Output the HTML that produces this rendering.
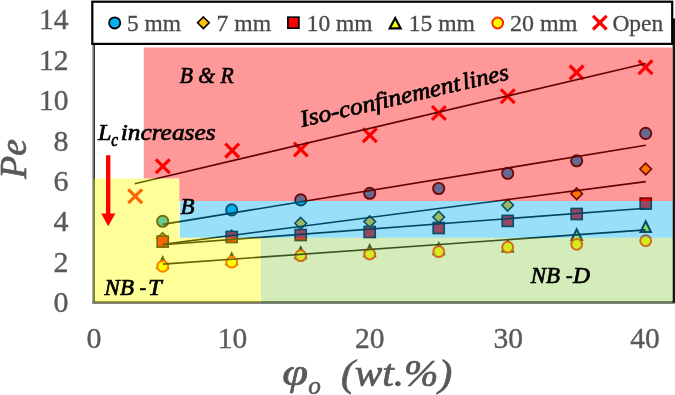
<!DOCTYPE html>
<html><head><meta charset="utf-8"><title>Pe vs phi</title>
<style>html,body{margin:0;padding:0;background:#fff;}body{width:675px;height:395px;overflow:hidden;font-family:"Liberation Serif",serif;}svg{display:block;will-change:transform;}text{font-family:"Liberation Serif",serif;}</style>
</head><body>
<svg width="675" height="395" viewBox="0 0 675 395">
<rect x="0" y="0" width="675" height="395" fill="#ffffff"/>
<g>
<rect x="92.3" y="44" width="1.5" height="260" fill="#858585"/>
<rect x="93.7" y="44" width="1.3" height="258.6" fill="#2a2a2a"/>
<rect x="92.3" y="302.5" width="582.5" height="1.5" fill="#858585"/>
<rect x="93.7" y="301.3" width="581" height="1.3" fill="#1a1a1a"/>
<rect x="672.6" y="18.5" width="2.4" height="284" fill="#151515"/>
</g>
<g>
<circle cx="162.7" cy="221.3" r="5.6" fill="#00b0f0" stroke="#101010" stroke-width="1.9"/>
<circle cx="231.7" cy="209.9" r="5.6" fill="#00b0f0" stroke="#101010" stroke-width="1.9"/>
<circle cx="300.7" cy="199.9" r="5.6" fill="#00b0f0" stroke="#101010" stroke-width="1.9"/>
<circle cx="369.7" cy="193.3" r="5.6" fill="#00b0f0" stroke="#101010" stroke-width="1.9"/>
<circle cx="438.7" cy="188.5" r="5.6" fill="#00b0f0" stroke="#101010" stroke-width="1.9"/>
<circle cx="507.7" cy="173.3" r="5.6" fill="#00b0f0" stroke="#101010" stroke-width="1.9"/>
<circle cx="576.7" cy="160.8" r="5.6" fill="#00b0f0" stroke="#101010" stroke-width="1.9"/>
<circle cx="645.7" cy="133.4" r="5.6" fill="#00b0f0" stroke="#101010" stroke-width="1.9"/>
<path d="M162.7 232.7L168.5 238.5L162.7 244.3L156.9 238.5Z" fill="#ffc000" stroke="#101010" stroke-width="1.6" stroke-linejoin="miter"/>
<path d="M231.7 230.2L237.5 236.0L231.7 241.8L225.9 236.0Z" fill="#ffc000" stroke="#101010" stroke-width="1.6" stroke-linejoin="miter"/>
<path d="M300.7 217.5L306.5 223.3L300.7 229.1L294.9 223.3Z" fill="#ffc000" stroke="#101010" stroke-width="1.6" stroke-linejoin="miter"/>
<path d="M369.7 215.8L375.5 221.6L369.7 227.4L363.9 221.6Z" fill="#ffc000" stroke="#101010" stroke-width="1.6" stroke-linejoin="miter"/>
<path d="M438.7 211.3L444.5 217.1L438.7 222.9L432.9 217.1Z" fill="#ffc000" stroke="#101010" stroke-width="1.6" stroke-linejoin="miter"/>
<path d="M507.7 199.4L513.5 205.2L507.7 211.0L501.9 205.2Z" fill="#ffc000" stroke="#101010" stroke-width="1.6" stroke-linejoin="miter"/>
<path d="M576.7 188.0L582.5 193.8L576.7 199.6L570.9 193.8Z" fill="#ffc000" stroke="#101010" stroke-width="1.6" stroke-linejoin="miter"/>
<path d="M645.7 163.2L651.5 169.0L645.7 174.8L639.9 169.0Z" fill="#ffc000" stroke="#101010" stroke-width="1.6" stroke-linejoin="miter"/>
<rect x="157.2" y="236.1" width="11.0" height="11.0" fill="#ff0000" stroke="#101010" stroke-width="1.7"/>
<rect x="226.2" y="231.5" width="11.0" height="11.0" fill="#ff0000" stroke="#101010" stroke-width="1.7"/>
<rect x="295.2" y="229.5" width="11.0" height="11.0" fill="#ff0000" stroke="#101010" stroke-width="1.7"/>
<rect x="364.2" y="226.5" width="11.0" height="11.0" fill="#ff0000" stroke="#101010" stroke-width="1.7"/>
<rect x="433.2" y="222.5" width="11.0" height="11.0" fill="#ff0000" stroke="#101010" stroke-width="1.7"/>
<rect x="502.2" y="215.4" width="11.0" height="11.0" fill="#ff0000" stroke="#101010" stroke-width="1.7"/>
<rect x="571.2" y="208.5" width="11.0" height="11.0" fill="#ff0000" stroke="#101010" stroke-width="1.7"/>
<rect x="640.2" y="198.1" width="11.0" height="11.0" fill="#ff0000" stroke="#101010" stroke-width="1.7"/>
<path d="M162.7 255.1L169.6 269.3L155.8 269.3Z" fill="#101010"/><path d="M162.70 259.90L166.24 267.20L159.16 267.20Z" fill="#ffff00"/>
<path d="M231.7 251.1L238.6 265.3L224.8 265.3Z" fill="#101010"/><path d="M231.70 255.90L235.24 263.20L228.16 263.20Z" fill="#ffff00"/>
<path d="M300.7 245.1L307.6 259.3L293.8 259.3Z" fill="#101010"/><path d="M300.70 249.90L304.24 257.20L297.16 257.20Z" fill="#ffff00"/>
<path d="M369.7 243.1L376.6 257.3L362.8 257.3Z" fill="#101010"/><path d="M369.70 247.90L373.24 255.20L366.16 255.20Z" fill="#ffff00"/>
<path d="M438.7 241.1L445.6 255.3L431.8 255.3Z" fill="#101010"/><path d="M438.70 245.90L442.24 253.20L435.16 253.20Z" fill="#ffff00"/>
<path d="M507.7 238.3L514.6 252.5L500.8 252.5Z" fill="#101010"/><path d="M507.70 243.10L511.24 250.40L504.16 250.40Z" fill="#ffff00"/>
<path d="M576.7 226.9L583.6 241.1L569.8 241.1Z" fill="#101010"/><path d="M576.70 231.70L580.24 239.00L573.16 239.00Z" fill="#ffff00"/>
<path d="M645.7 218.9L652.6 233.1L638.8 233.1Z" fill="#101010"/><path d="M645.70 223.70L649.24 231.00L642.16 231.00Z" fill="#ffff00"/>
<circle cx="162.7" cy="266.3" r="5.4" fill="#ffff00" stroke="#ff2a00" stroke-width="2.0"/>
<circle cx="231.7" cy="262.2" r="5.4" fill="#ffff00" stroke="#ff2a00" stroke-width="2.0"/>
<circle cx="300.7" cy="255.7" r="5.4" fill="#ffff00" stroke="#ff2a00" stroke-width="2.0"/>
<circle cx="369.7" cy="254.0" r="5.4" fill="#ffff00" stroke="#ff2a00" stroke-width="2.0"/>
<circle cx="438.7" cy="251.6" r="5.4" fill="#ffff00" stroke="#ff2a00" stroke-width="2.0"/>
<circle cx="507.7" cy="247.2" r="5.4" fill="#ffff00" stroke="#ff2a00" stroke-width="2.0"/>
<circle cx="576.7" cy="244.3" r="5.4" fill="#ffff00" stroke="#ff2a00" stroke-width="2.0"/>
<circle cx="645.7" cy="240.7" r="5.4" fill="#ffff00" stroke="#ff2a00" stroke-width="2.0"/>
<path d="M128.3 189.4L142.1 203.2M142.1 189.4L128.3 203.2" fill="none" stroke="#ff0000" stroke-width="3.2" stroke-linecap="butt"/>
<path d="M155.9 159.3L169.7 173.1M169.7 159.3L155.9 173.1" fill="none" stroke="#ff0000" stroke-width="3.2" stroke-linecap="butt"/>
<path d="M225.3 143.7L239.1 157.5M239.1 143.7L225.3 157.5" fill="none" stroke="#ff0000" stroke-width="3.2" stroke-linecap="butt"/>
<path d="M293.9 142.6L307.7 156.4M307.7 142.6L293.9 156.4" fill="none" stroke="#ff0000" stroke-width="3.2" stroke-linecap="butt"/>
<path d="M362.9 128.3L376.7 142.1M376.7 128.3L362.9 142.1" fill="none" stroke="#ff0000" stroke-width="3.2" stroke-linecap="butt"/>
<path d="M432.0 106.1L445.8 119.9M445.8 106.1L432.0 119.9" fill="none" stroke="#ff0000" stroke-width="3.2" stroke-linecap="butt"/>
<path d="M500.9 89.4L514.7 103.2M514.7 89.4L500.9 103.2" fill="none" stroke="#ff0000" stroke-width="3.2" stroke-linecap="butt"/>
<path d="M569.7 65.5L583.5 79.3M583.5 65.5L569.7 79.3" fill="none" stroke="#ff0000" stroke-width="3.2" stroke-linecap="butt"/>
<path d="M638.6 60.4L652.4 74.2M652.4 60.4L638.6 74.2" fill="none" stroke="#ff0000" stroke-width="3.2" stroke-linecap="butt"/>
</g>
<g stroke="#000" stroke-width="1.65" fill="none">
<line x1="134.7" y1="183.7" x2="645.6" y2="63.5"/>
<line x1="162.8" y1="224.4" x2="645.8" y2="145.3"/>
<line x1="162.8" y1="244.4" x2="645.8" y2="181.6"/>
<line x1="162.8" y1="244.7" x2="645.8" y2="208.2"/>
<line x1="162.8" y1="264.1" x2="645.8" y2="229.9"/>
</g>
<g fill-opacity="0.4" stroke="none">
<path d="M143.8 47.5H672.3V201H179.3V178.5H143.8Z" fill="#ff0000"/>
<rect x="179.9" y="201" width="492.4" height="36.8" fill="#00b0f0"/>
<path d="M93.7 178.5H179.3V237.8H261V302.6H93.7Z" fill="#ffff00"/>
<rect x="261" y="237.8" width="411.3" height="64.8" fill="#92d050"/>
</g>
<path d="M106 155.2H110.4V213.6H115.4L108.2 226.2L101.2 213.6H106Z" fill="#ff0000"/>
<text x="179.7" y="83.2" font-size="23.5" font-style="italic" font-weight="normal" fill="#000" text-anchor="start" textLength="54" lengthAdjust="spacingAndGlyphs" stroke="#000" stroke-width="0.7">B &amp; R</text>
<text x="97.9" y="139.5" font-size="23.5" font-style="italic" font-weight="normal" fill="#000" text-anchor="start" textLength="13.5" lengthAdjust="spacingAndGlyphs" stroke="#000" stroke-width="0.7">L</text>
<text x="111.2" y="145.6" font-size="18" font-style="italic" font-weight="normal" fill="#000" text-anchor="start" textLength="6.8" lengthAdjust="spacingAndGlyphs" stroke="#000" stroke-width="0.7">c</text>
<text x="120.7" y="139.5" font-size="23.5" font-style="italic" font-weight="normal" fill="#000" text-anchor="start" textLength="94.9" lengthAdjust="spacingAndGlyphs" stroke="#000" stroke-width="0.7">increases</text>
<g transform="translate(302,127) rotate(-13)"><text x="0" y="0" font-size="23.5" font-style="italic" font-weight="normal" fill="#000" text-anchor="start" textLength="163.8" lengthAdjust="spacingAndGlyphs" stroke="#000" stroke-width="0.7">Iso-confinement</text><text x="166.5" y="0" font-size="23.5" font-style="italic" font-weight="normal" fill="#000" text-anchor="start" textLength="47" lengthAdjust="spacingAndGlyphs" stroke="#000" stroke-width="0.7">lines</text></g>
<text x="180.4" y="214.2" font-size="23.5" font-style="italic" font-weight="normal" fill="#000" text-anchor="start" textLength="14" lengthAdjust="spacingAndGlyphs" stroke="#000" stroke-width="0.7">B</text>
<text x="104.6" y="295.3" font-size="23.5" font-style="italic" font-weight="normal" fill="#000" text-anchor="start" textLength="29.3" lengthAdjust="spacingAndGlyphs" stroke="#000" stroke-width="0.7">NB</text>
<text x="139.5" y="295.3" font-size="23.5" font-style="italic" font-weight="normal" fill="#000" text-anchor="start" textLength="6.6" lengthAdjust="spacingAndGlyphs" stroke="#000" stroke-width="0.7">-</text>
<text x="148.1" y="295.3" font-size="23.5" font-style="italic" font-weight="normal" fill="#000" text-anchor="start" textLength="13.7" lengthAdjust="spacingAndGlyphs" stroke="#000" stroke-width="0.7">T</text>
<text x="530.7" y="283.0" font-size="23.5" font-style="italic" font-weight="normal" fill="#000" text-anchor="start" textLength="29.3" lengthAdjust="spacingAndGlyphs" stroke="#000" stroke-width="0.7">NB</text>
<text x="565.9" y="283.0" font-size="23.5" font-style="italic" font-weight="normal" fill="#000" text-anchor="start" textLength="6.6" lengthAdjust="spacingAndGlyphs" stroke="#000" stroke-width="0.7">-</text>
<text x="573.0" y="283.0" font-size="23.5" font-style="italic" font-weight="normal" fill="#000" text-anchor="start" textLength="17.0" lengthAdjust="spacingAndGlyphs" stroke="#000" stroke-width="0.7">D</text>
<rect x="92.3" y="1.7" width="579.9" height="42.2" fill="#ffffff" stroke="#000" stroke-width="2.2"/>
<circle cx="114.7" cy="22.9" r="5.6" fill="#00b0f0" stroke="#000" stroke-width="1.8"/>
<text x="127.0" y="30.6" font-size="22.6" font-style="normal" font-weight="normal" fill="#4a4a4a" text-anchor="start" textLength="54.0" lengthAdjust="spacingAndGlyphs" stroke="#4a4a4a" stroke-width="0.3">5 mm</text>
<path d="M203.4 17.0L209.2 22.8L203.4 28.6L197.6 22.8Z" fill="#ffc000" stroke="#000" stroke-width="1.6" stroke-linejoin="miter"/>
<text x="216.6" y="30.6" font-size="22.6" font-style="normal" font-weight="normal" fill="#4a4a4a" text-anchor="start" textLength="54.6" lengthAdjust="spacingAndGlyphs" stroke="#4a4a4a" stroke-width="0.3">7 mm</text>
<rect x="287.9" y="17.2" width="11.0" height="11.0" fill="#ff0000" stroke="#000" stroke-width="1.7"/>
<text x="306.8" y="30.6" font-size="22.6" font-style="normal" font-weight="normal" fill="#4a4a4a" text-anchor="start" textLength="65.8" lengthAdjust="spacingAndGlyphs" stroke="#4a4a4a" stroke-width="0.3">10 mm</text>
<path d="M395.2 15.8L402.5 29.5L387.9 29.5Z" fill="#000"/><path d="M395.20 20.48L398.83 27.30L391.57 27.30Z" fill="#ffff00"/>
<text x="408.8" y="30.6" font-size="22.6" font-style="normal" font-weight="normal" fill="#4a4a4a" text-anchor="start" textLength="66.1" lengthAdjust="spacingAndGlyphs" stroke="#4a4a4a" stroke-width="0.3">15 mm</text>
<circle cx="497.7" cy="23.0" r="5.4" fill="#ffff00" stroke="#ff2a00" stroke-width="2.0"/>
<text x="510.0" y="30.6" font-size="22.6" font-style="normal" font-weight="normal" fill="#4a4a4a" text-anchor="start" textLength="67.4" lengthAdjust="spacingAndGlyphs" stroke="#4a4a4a" stroke-width="0.3">20 mm</text>
<path d="M593.0 15.9L606.6 29.5M606.6 15.9L593.0 29.5" fill="none" stroke="#ff0000" stroke-width="3.2" stroke-linecap="butt"/>
<text x="612.4" y="30.6" font-size="22.6" font-style="normal" font-weight="normal" fill="#4a4a4a" text-anchor="start" textLength="50.8" lengthAdjust="spacingAndGlyphs" stroke="#4a4a4a" stroke-width="0.3">Open</text>
<text x="39.099999999999994" y="29.4" font-size="29" font-style="normal" font-weight="normal" fill="#595959" text-anchor="start" textLength="29.5" lengthAdjust="spacingAndGlyphs" stroke="#595959" stroke-width="0.35">14</text>
<text x="39.099999999999994" y="69.8" font-size="29" font-style="normal" font-weight="normal" fill="#595959" text-anchor="start" textLength="29.5" lengthAdjust="spacingAndGlyphs" stroke="#595959" stroke-width="0.35">12</text>
<text x="39.099999999999994" y="110.1" font-size="29" font-style="normal" font-weight="normal" fill="#595959" text-anchor="start" textLength="29.5" lengthAdjust="spacingAndGlyphs" stroke="#595959" stroke-width="0.35">10</text>
<text x="53.599999999999994" y="150.5" font-size="29" font-style="normal" font-weight="normal" fill="#595959" text-anchor="start" textLength="15" lengthAdjust="spacingAndGlyphs" stroke="#595959" stroke-width="0.35">8</text>
<text x="53.599999999999994" y="190.9" font-size="29" font-style="normal" font-weight="normal" fill="#595959" text-anchor="start" textLength="15" lengthAdjust="spacingAndGlyphs" stroke="#595959" stroke-width="0.35">6</text>
<text x="53.599999999999994" y="231.3" font-size="29" font-style="normal" font-weight="normal" fill="#595959" text-anchor="start" textLength="15" lengthAdjust="spacingAndGlyphs" stroke="#595959" stroke-width="0.35">4</text>
<text x="53.599999999999994" y="271.6" font-size="29" font-style="normal" font-weight="normal" fill="#595959" text-anchor="start" textLength="15" lengthAdjust="spacingAndGlyphs" stroke="#595959" stroke-width="0.35">2</text>
<text x="53.599999999999994" y="312" font-size="29" font-style="normal" font-weight="normal" fill="#595959" text-anchor="start" textLength="15" lengthAdjust="spacingAndGlyphs" stroke="#595959" stroke-width="0.35">0</text>
<text x="86.5" y="347.6" font-size="29" font-style="normal" font-weight="normal" fill="#595959" text-anchor="start" textLength="15" lengthAdjust="spacingAndGlyphs" stroke="#595959" stroke-width="0.35">0</text>
<text x="217.7" y="347.6" font-size="29" font-style="normal" font-weight="normal" fill="#595959" text-anchor="start" textLength="29.5" lengthAdjust="spacingAndGlyphs" stroke="#595959" stroke-width="0.35">10</text>
<text x="355.1" y="347.6" font-size="29" font-style="normal" font-weight="normal" fill="#595959" text-anchor="start" textLength="29.5" lengthAdjust="spacingAndGlyphs" stroke="#595959" stroke-width="0.35">20</text>
<text x="493.6" y="347.6" font-size="29" font-style="normal" font-weight="normal" fill="#595959" text-anchor="start" textLength="29.5" lengthAdjust="spacingAndGlyphs" stroke="#595959" stroke-width="0.35">30</text>
<text x="630.2" y="347.6" font-size="29" font-style="normal" font-weight="normal" fill="#595959" text-anchor="start" textLength="29.5" lengthAdjust="spacingAndGlyphs" stroke="#595959" stroke-width="0.35">40</text>
<g transform="translate(25.8,178.7) rotate(-90)"><text x="0" y="0" font-size="37" font-style="italic" font-weight="normal" fill="#595959" text-anchor="start" textLength="39.5" lengthAdjust="spacingAndGlyphs" stroke="#595959" stroke-width="0.7">Pe</text></g>
<text x="282.3" y="385.4" font-size="38" font-style="italic" font-weight="normal" fill="#595959" text-anchor="start" textLength="25.8" lengthAdjust="spacingAndGlyphs" stroke="#595959" stroke-width="0.7">φ</text>
<text x="308.3" y="394.2" font-size="26" font-style="italic" font-weight="normal" fill="#595959" text-anchor="start" textLength="12.6" lengthAdjust="spacingAndGlyphs" stroke="#595959" stroke-width="0.6">o</text>
<text x="341.0" y="385.8" font-size="37.5" font-style="italic" font-weight="normal" fill="#595959" text-anchor="start" textLength="111.2" lengthAdjust="spacingAndGlyphs" stroke="#595959" stroke-width="0.7">(wt.%)</text>
</svg></body></html>
